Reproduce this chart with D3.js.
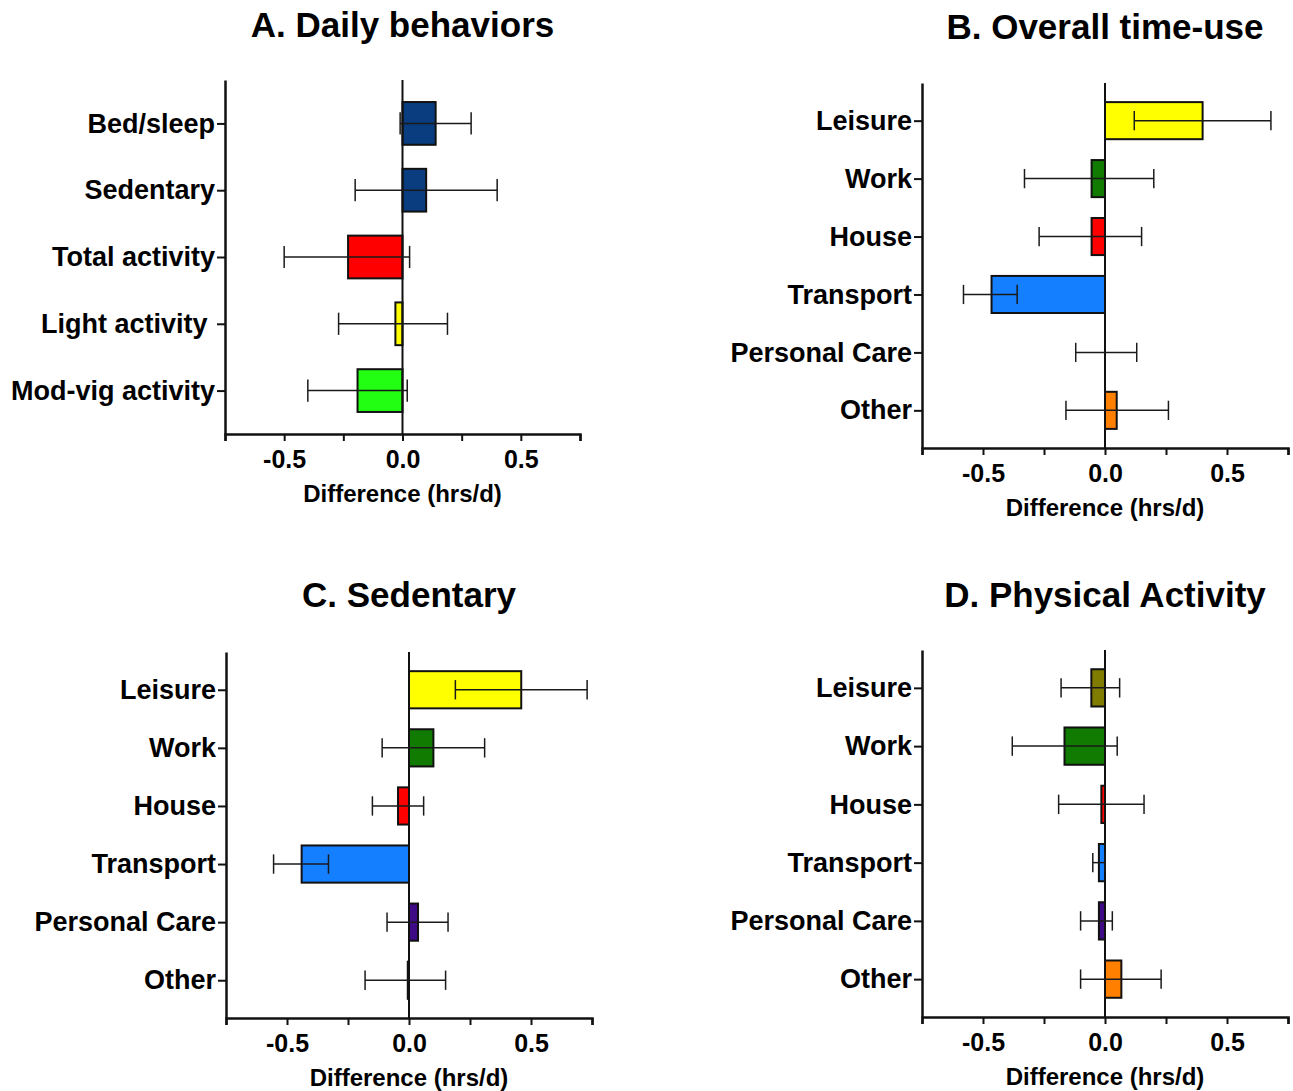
<!DOCTYPE html>
<html>
<head>
<meta charset="utf-8">
<script src="https://cdn.jsdelivr.net/npm/d3@7.9.0/dist/d3.min.js"></script>
<style>
  body { margin: 0; background: #fff; }
  svg { display: block; font-family: "Liberation Sans", Arial, Helvetica, sans-serif; font-weight: bold; }
  .label { white-space: pre; }
</style>
</head>
<body>
<svg id="chart" width="1293" height="1091"></svg>
<script>
// A. Daily behaviors
const catsA = ['Bed/sleep', 'Sedentary', 'Total activity', 'Light activity ', 'Mod-vig activity'];
const meanA = [0.14, 0.10, -0.23, -0.03, -0.19];
const lowA  = [-0.01, -0.20, -0.50, -0.27, -0.40];
const highA = [0.29, 0.40, 0.03, 0.19, 0.02];
const colorsA = ['#0a3d7f', '#0a3d7f', '#ff0000', '#ffff00', '#22ff12'];

// B. Overall time-use
const catsTime = ['Leisure', 'Work', 'House', 'Transport', 'Personal Care', 'Other'];
const meanB = [0.40, -0.055, -0.055, -0.465, 0.0, 0.048];
const lowB  = [0.12, -0.33, -0.27, -0.58, -0.12, -0.16];
const highB = [0.68, 0.20, 0.15, -0.36, 0.13, 0.26];
const colorsB = ['#ffff00', '#117a00', '#ff0000', '#1580ff', '#3f0a85', '#ff8000'];

// C. Sedentary
const meanC = [0.46, 0.10, -0.045, -0.44, 0.037, -0.005];
const lowC  = [0.19, -0.11, -0.15, -0.555, -0.09, -0.18];
const highC = [0.73, 0.31, 0.06, -0.33, 0.16, 0.15];
const colorsC = ['#ffff00', '#117a00', '#ff0000', '#1580ff', '#3f0a85', '#ff8000'];

// D. Physical Activity
const meanD = [-0.056, -0.166, -0.015, -0.025, -0.025, 0.067];
const lowD  = [-0.18, -0.38, -0.19, -0.05, -0.10, -0.10];
const highD = [0.06, 0.05, 0.16, 0.0, 0.03, 0.23];
const colorsD = ['#807c00', '#117a00', '#ff0000', '#1580ff', '#3f0a85', '#ff8000'];

const xTicks = [-0.75, -0.5, -0.25, 0, 0.25, 0.5, 0.75];
const xLabelled = [-0.5, 0, 0.5];

const panels = [
  { title: 'A. Daily behaviors', cats: catsA, mean: meanA, low: lowA, high: highA, colors: colorsA,
    x0: 225, x1: 580, y0: 80, y1: 434, titleY: 37 },
  { title: 'B. Overall time-use', cats: catsTime, mean: meanB, low: lowB, high: highB, colors: colorsB,
    x0: 922, x1: 1288, y0: 83, y1: 448, titleY: 39 },
  { title: 'C. Sedentary', cats: catsTime, mean: meanC, low: lowC, high: highC, colors: colorsC,
    x0: 226, x1: 592, y0: 652, y1: 1018, titleY: 607 },
  { title: 'D. Physical Activity', cats: catsTime, mean: meanD, low: lowD, high: highD, colors: colorsD,
    x0: 922, x1: 1288, y0: 650, y1: 1017, titleY: 607 }
];

const svg = d3.select('#chart');

function drawPanel(p) {
  const g = svg.append('g');

  const x = d3.scaleLinear().domain([-0.75, 0.75]).range([p.x0, p.x1]);
  const y = d3.scalePoint().domain(p.cats).range([p.y0, p.y1]).padding(0.65);
  const barH = y.step() * 0.64;
  const capH = barH * 0.52;

  const rows = p.cats.map((c, i) => ({ cat: c, mean: p.mean[i], low: p.low[i], high: p.high[i], color: p.colors[i] }));

  // bars
  g.selectAll('rect.bar')
    .data(rows)
    .join('rect')
    .attr('class', 'bar')
    .attr('x', d => x(Math.min(0, d.mean)))
    .attr('width', d => Math.abs(x(d.mean) - x(0)))
    .attr('y', d => y(d.cat) - barH / 2)
    .attr('height', barH)
    .attr('fill', d => d.color)
    .attr('stroke', '#111')
    .attr('stroke-width', 2);

  // zero line
  g.append('line')
    .attr('x1', x(0)).attr('x2', x(0))
    .attr('y1', p.y0).attr('y2', p.y1)
    .attr('stroke', '#111').attr('stroke-width', 2);

  // error bars
  const err = g.selectAll('g.err').data(rows).join('g').attr('class', 'err')
    .attr('stroke', '#1a1a1a').attr('stroke-width', 1.5);
  err.append('line')
    .attr('x1', d => x(d.low)).attr('x2', d => x(d.high))
    .attr('y1', d => y(d.cat)).attr('y2', d => y(d.cat));
  err.append('line')
    .attr('x1', d => x(d.low)).attr('x2', d => x(d.low))
    .attr('y1', d => y(d.cat) - capH / 2).attr('y2', d => y(d.cat) + capH / 2);
  err.append('line')
    .attr('x1', d => x(d.high)).attr('x2', d => x(d.high))
    .attr('y1', d => y(d.cat) - capH / 2).attr('y2', d => y(d.cat) + capH / 2);

  // x axis
  const xAxis = d3.axisBottom(x)
    .tickValues(xTicks)
    .tickSize(7)
    .tickPadding(4)
    .tickFormat(d => xLabelled.includes(d) ? d.toFixed(1) : '');
  const gx = g.append('g')
    .attr('transform', `translate(0,${p.y1})`)
    .call(xAxis);
  gx.select('.domain').attr('stroke', '#111').attr('stroke-width', 2.5);
  gx.selectAll('.tick line').attr('stroke', '#111').attr('stroke-width', 2);
  gx.selectAll('.tick text')
    .attr('fill', '#000')
    .style('font-size', '25px')
    .style('font-weight', 'bold')
    .attr('dy', null)
    .attr('y', 34);

  // y axis
  const yAxis = d3.axisLeft(y).tickSize(8).tickPadding(2).tickSizeOuter(0);
  const gy = g.append('g')
    .attr('transform', `translate(${p.x0},0)`)
    .call(yAxis);
  gy.select('.domain').attr('stroke', '#111').attr('stroke-width', 2.5);
  gy.selectAll('.tick line').attr('stroke', '#111').attr('stroke-width', 2);
  gy.selectAll('.tick text')
    .attr('class', 'label')
    .attr('fill', '#000')
    .style('font-size', '27px')
    .style('font-weight', 'bold');

  // axis title
  g.append('text')
    .attr('x', (p.x0 + p.x1) / 2)
    .attr('y', p.y1 + 68)
    .attr('text-anchor', 'middle')
    .style('font-size', '24px')
    .text('Difference (hrs/d)');

  // panel title
  g.append('text')
    .attr('x', (p.x0 + p.x1) / 2)
    .attr('y', p.titleY)
    .attr('text-anchor', 'middle')
    .style('font-size', '35px')
    .text(p.title);
}

panels.forEach(drawPanel);
</script>
</body>
</html>
